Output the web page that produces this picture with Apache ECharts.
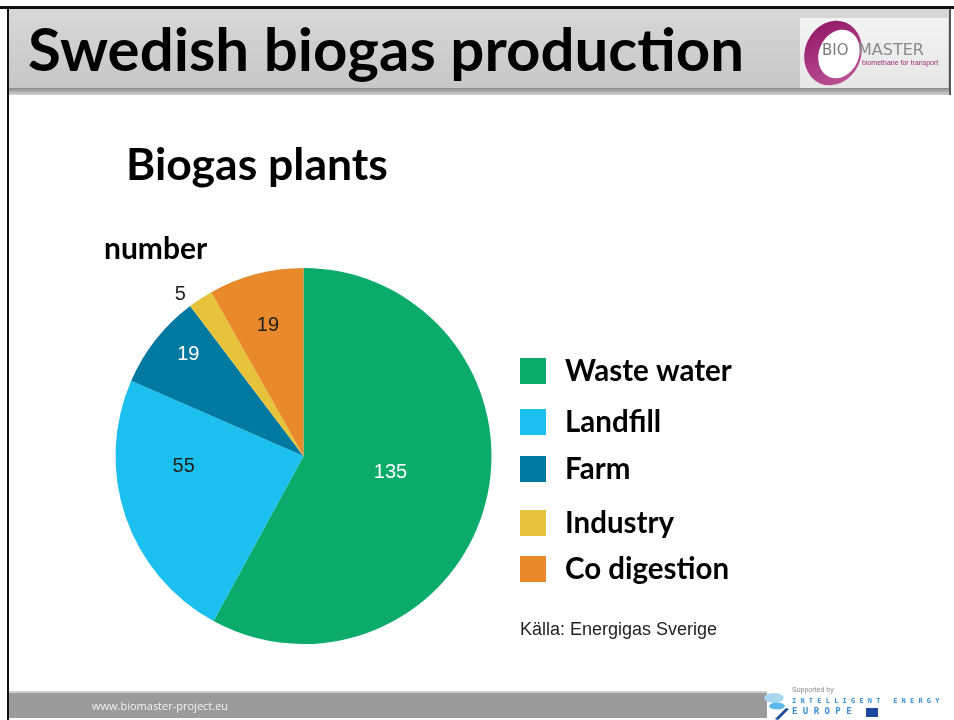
<!DOCTYPE html>
<html>
<head>
<meta charset="utf-8">
<title>Swedish biogas production</title>
<script src="https://cdn.jsdelivr.net/npm/echarts@6/dist/echarts.min.js"></script>
<style>
  html, body { margin: 0; padding: 0; background: #ffffff; }
  #chart { width: 954px; height: 720px; }
</style>
</head>
<body>
<div id="chart"></div>
<script>
// Biogas plants in Sweden, by substrate type (number of plants)
const categories = ['Waste water', 'Landfill', 'Farm', 'Industry', 'Co digestion'];
const plantCounts = [135, 55, 19, 5, 19];

const sliceColors = ['#0aab6b', '#1cc0ef', '#0079a0', '#e6c33b', '#e8892b'];
const labelColors = ['#ffffff', '#222222', '#ffffff', '#222222', '#222222'];
// nudges of each value label away from the slice's mid-radius point
const labelOffsets = [[-7, -7], [-28, -21], [-39, -41], [-70, -80], [-11, -37]];
const legendTops = [356, 407, 454, 508, 554];

const chart = echarts.init(document.getElementById('chart'), null, { renderer: 'canvas' });

const pieData = categories.map((name, i) => ({
  name: name,
  value: plantCounts[i],
  itemStyle: { color: sliceColors[i] },
  label: { color: labelColors[i], offset: labelOffsets[i] }
}));

const legends = categories.map((name, i) => ({
  data: [name],
  left: 520,
  top: legendTops[i],
  padding: 0,
  orient: 'vertical',
  icon: 'rect',
  itemWidth: 26,
  itemHeight: 26,
  selectedMode: false,
  textStyle: {
    fontFamily: 'Lato',
    fontWeight: 'bold',
    fontSize: 29.5,
    color: '#000000',
    padding: [0, 0, 0, 14]
  }
}));

const slideGraphics = [
  // header band
  {
    type: 'rect', silent: true, z: -10,
    shape: { x: 8, y: 8, width: 943, height: 82 },
    style: {
      fill: new echarts.graphic.LinearGradient(0, 0, 0, 1, [
        { offset: 0, color: '#d8d8d8' },
        { offset: 1, color: '#c6c6c6' }
      ])
    }
  },
  {
    type: 'rect', silent: true, z: -10,
    shape: { x: 8, y: 88, width: 943, height: 7 },
    style: {
      fill: new echarts.graphic.LinearGradient(0, 0, 0, 1, [
        { offset: 0, color: '#8a8a8a' },
        { offset: 1, color: '#d4d4d4' }
      ])
    }
  },
  // right edge of header
  {
    type: 'rect', silent: true, z: -9,
    shape: { x: 949, y: 8, width: 2, height: 87 },
    style: { fill: '#555555' }
  },
  // slide frame lines
  { type: 'rect', silent: true, shape: { x: 0, y: 6, width: 954, height: 3 }, style: { fill: '#111111' } },
  { type: 'rect', silent: true, shape: { x: 7, y: 6, width: 2, height: 714 }, style: { fill: '#111111' } },

  // logo panel
  {
    type: 'rect', silent: true, z: -8,
    shape: { x: 800, y: 18, width: 148, height: 70 },
    style: {
      fill: new echarts.graphic.LinearGradient(0, 0, 0, 1, [
        { offset: 0, color: '#f3f3f3' },
        { offset: 1, color: '#e6e6e6' }
      ])
    }
  },
  {
    type: 'circle', silent: true,
    x: 833, y: 53, rotation: -0.4, scaleX: 0.85, scaleY: 1.0,
    shape: { cx: 0, cy: 0, r: 33 },
    style: {
      fill: new echarts.graphic.LinearGradient(0, 0, 1, 1, [
        { offset: 0, color: '#8c1262' },
        { offset: 1, color: '#c45a9c' }
      ])
    }
  },
  {
    type: 'circle', silent: true,
    x: 839, y: 54, rotation: -0.4, scaleX: 0.8, scaleY: 1.0,
    shape: { cx: 0, cy: 0, r: 25 },
    style: { fill: '#ffffff' }
  },
  {
    type: 'text', silent: true,
    style: { x: 822, y: 51, text: 'BIO', font: '15px "DejaVu Sans"', fill: '#7a7a7a', verticalAlign: 'middle' }
  },
  {
    type: 'text', silent: true,
    style: { x: 858, y: 51, text: 'MASTER', font: '16px "DejaVu Sans"', fill: '#8a8a8a', verticalAlign: 'middle' }
  },
  {
    type: 'text', silent: true,
    style: { x: 862, y: 63, text: 'biomethane for transport', font: '7px "Liberation Sans"', fill: '#9c2a7a', verticalAlign: 'middle' }
  },

  // slide title
  {
    type: 'text', silent: true,
    style: { x: 28, y: 52, text: 'Swedish biogas production', font: 'bold 60px Lato', fill: '#000000', verticalAlign: 'middle' }
  },
  {
    type: 'text', silent: true,
    style: { x: 126, y: 166, text: 'Biogas plants', font: 'bold 44.5px Lato', fill: '#000000', verticalAlign: 'middle' }
  },
  {
    type: 'text', silent: true,
    style: { x: 104, y: 249, text: 'number', font: 'bold 30px Lato', fill: '#000000', verticalAlign: 'middle' }
  },
  {
    type: 'text', silent: true,
    style: { x: 520, y: 630, text: 'Källa: Energigas Sverige', font: '18px "Liberation Sans"', fill: '#222222', verticalAlign: 'middle' }
  },

  // footer band
  { type: 'rect', silent: true, z: -10, shape: { x: 9, y: 691, width: 758, height: 2 }, style: { fill: '#cfcfcf' } },
  { type: 'rect', silent: true, z: -10, shape: { x: 9, y: 693, width: 758, height: 25 }, style: { fill: '#9b9b9b' } },
  {
    type: 'text', silent: true,
    style: { x: 92, y: 707, text: 'www.biomaster-project.eu', font: '11px "Open Sans"', fill: '#f2f2f2', verticalAlign: 'middle' }
  },
  // Intelligent Energy Europe mark
  {
    type: 'circle', silent: true, x: 774, y: 698, scaleX: 1.4, scaleY: 0.7,
    shape: { cx: 0, cy: 0, r: 7 }, style: { fill: '#a8d8f0' }
  },
  {
    type: 'circle', silent: true, x: 777, y: 706, scaleX: 1.3, scaleY: 0.6,
    shape: { cx: 0, cy: 0, r: 6 }, style: { fill: '#5cb8e6' }
  },
  {
    type: 'polygon', silent: true,
    shape: { points: [[786, 708], [789, 709], [778, 720], [775, 719]] },
    style: { fill: '#1f4f9c' }
  },
  {
    type: 'text', silent: true,
    style: { x: 792, y: 690, text: 'Supported by', font: '7px "Liberation Sans"', fill: '#8a8a8a', verticalAlign: 'middle' }
  },
  {
    type: 'text', silent: true,
    style: { x: 792, y: 701, text: 'I N T E L L I G E N T   E N E R G Y', font: 'bold 7px "DejaVu Sans Mono"', fill: '#3b8fd6', verticalAlign: 'middle' }
  },
  {
    type: 'text', silent: true,
    style: { x: 792, y: 712, text: 'E U R O P E', font: 'bold 9px "DejaVu Sans Mono"', fill: '#3b8fd6', verticalAlign: 'middle' }
  },
  { type: 'rect', silent: true, shape: { x: 866, y: 708, width: 12, height: 9 }, style: { fill: '#1d4aa0' } }
];

const option = {
  backgroundColor: '#ffffff',
  animation: false,
  legend: legends,
  graphic: slideGraphics,
  series: [{
    type: 'pie',
    center: [303.5, 456],
    radius: [0, 188],
    startAngle: 90,
    clockwise: true,
    silent: true,
    itemStyle: { borderWidth: 0 },
    label: {
      show: true,
      position: 'inside',
      formatter: '{c}',
      fontFamily: 'Liberation Sans',
      fontSize: 20
    },
    labelLine: { show: false },
    data: pieData
  }]
};

chart.setOption(option);
</script>
</body>
</html>
